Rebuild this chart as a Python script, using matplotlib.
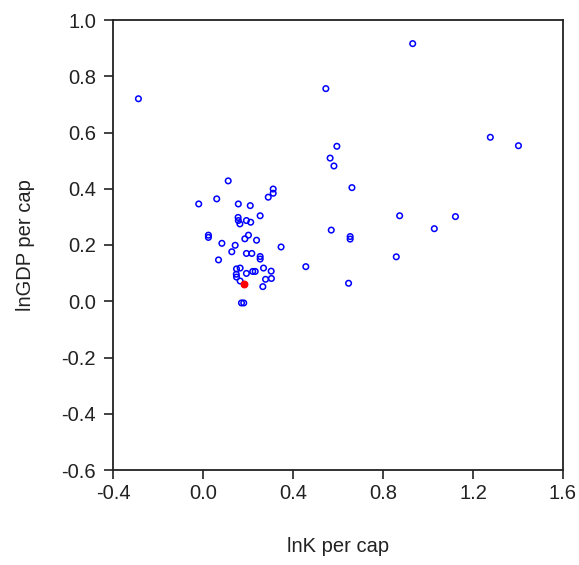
import matplotlib
matplotlib.use("Agg")
import matplotlib.pyplot as plt

# scatter values
lnk = [0.112, -0.019, 0.061, 0.157, 0.210, 0.312, 0.312, 0.290, 0.254, 0.156,
       0.157, 0.193, 0.212, 0.164, 0.024, 0.024, 0.202, 0.186, 0.238, 0.084,
       0.143, 0.128, 0.347, 0.193, 0.217, 0.254, 0.254, 0.069, 0.149, 0.165,
       0.193, 0.221, 0.232, 0.269, 0.303, 0.149, 0.148, 0.278, 0.304, 0.165,
       0.266, 0.171, 0.181, 0.457, 0.565, 0.582, 0.595, 0.662, 0.570, 0.654,
       0.654, 0.647, 0.859, 0.874, 1.028, 1.122, 1.277, 1.402, 0.932, 0.546,
       -0.287]
lngdp = [0.428, 0.346, 0.364, 0.346, 0.340, 0.399, 0.384, 0.370, 0.304, 0.298,
         0.287, 0.287, 0.281, 0.275, 0.235, 0.227, 0.235, 0.222, 0.217, 0.206,
         0.199, 0.176, 0.193, 0.170, 0.170, 0.159, 0.150, 0.147, 0.115, 0.118,
         0.099, 0.106, 0.106, 0.118, 0.107, 0.086, 0.096, 0.078, 0.081, 0.072,
         0.052, -0.006, -0.006, 0.123, 0.509, 0.481, 0.551, 0.404, 0.253, 0.230,
         0.221, 0.064, 0.158, 0.304, 0.258, 0.301, 0.583, 0.553, 0.916, 0.756,
         0.720]
hl_x = [0.184]
hl_y = [0.061]

xticks = [-0.4, 0.0, 0.4, 0.8, 1.2, 1.6]
yticks = [-0.6, -0.4, -0.2, 0.0, 0.2, 0.4, 0.6, 0.8, 1.0]

plt.rcParams['font.family'] = ['Liberation Sans', 'DejaVu Sans']

fig = plt.figure(figsize=(5.79, 5.65), dpi=100)
ax = fig.add_axes([113 / 579, 1 - 470 / 565, 450 / 579, 450 / 565])

ax.scatter(lnk, lngdp, s=16, facecolors='none', edgecolors='#0000ff', linewidths=1.1, zorder=3)
ax.scatter(hl_x, hl_y, s=22, color='#ff0000', zorder=4)

ax.set_xlim(-0.4, 1.6)
ax.set_ylim(-0.6, 1.0)
ax.set_xticks(xticks)
ax.set_yticks(yticks)
ax.set_xticklabels(['%.1f' % v for v in xticks])
ax.set_yticklabels(['%.1f' % v for v in yticks])
ax.tick_params(direction='out', length=6.3, width=1.2, labelsize=14.5, colors='#222222')
ax.tick_params(axis='x', pad=4)
ax.tick_params(axis='y', pad=6)

for sp in ax.spines.values():
    sp.set_linewidth(1.3)
    sp.set_color('#222222')

ax.set_xlabel('lnK per cap', fontsize=14.5, labelpad=24, color='#222222')
ax.set_ylabel('lnGDP per cap', fontsize=14.5, labelpad=19, color='#222222')

fig.savefig('out.png', dpi=100)
